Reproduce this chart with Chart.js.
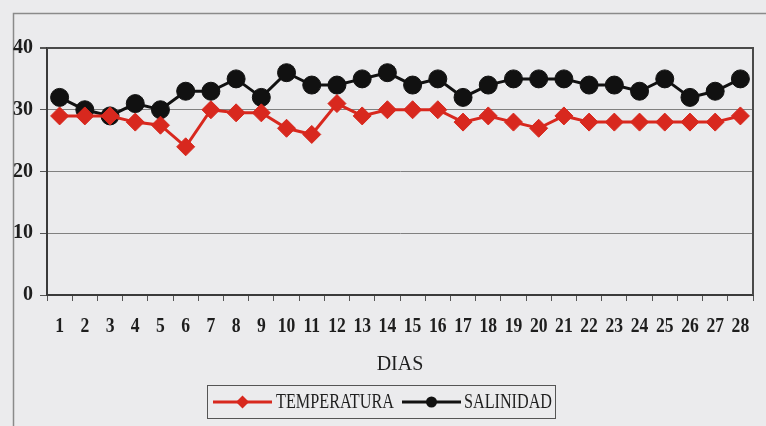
<!DOCTYPE html>
<html>
<head>
<meta charset="utf-8">
<script src="https://cdn.jsdelivr.net/npm/chart.js@4/dist/chart.umd.min.js"></script>
<style>
  html, body { margin: 0; padding: 0; background: #ebebed; }
  #wrap { width: 766px; height: 426px; position: relative; }
</style>
</head>
<body>
<div id="wrap"><canvas id="c" width="766" height="426"></canvas></div>
<script>
// Days of the sampling period
const dias = ['1','2','3','4','5','6','7','8','9','10','11','12','13','14',
              '15','16','17','18','19','20','21','22','23','24','25','26','27','28'];

// Daily water temperature (°C)
const temperatura = [29, 29, 29, 28, 27.5, 24, 30, 29.5, 29.5, 27, 26, 31, 29, 30,
                     30, 30, 28, 29, 28, 27, 29, 28, 28, 28, 28, 28, 28, 29];

// Daily salinity (‰)
const salinidad = [32, 30, 29, 31, 30, 33, 33, 35, 32, 36, 34, 34, 35, 36,
                   34, 35, 32, 34, 35, 35, 35, 34, 34, 33, 35, 32, 33, 35];

const yTicks = [0, 10, 20, 30, 40];

const RED = '#d8281e';
const BLACK = '#111111';
const INK = '#1e1e1e';
const SERIF = '"Liberation Serif", "DejaVu Serif", serif';

// Draw text squeezed horizontally to a narrower set width
function condensedText(ctx, text, x, y, squeeze, align) {
  const w = ctx.measureText(text).width * squeeze;
  const left = align === 'center' ? x - w / 2 : x;
  ctx.save();
  ctx.translate(left, y);
  ctx.scale(squeeze, 1);
  ctx.textAlign = 'left';
  ctx.fillText(text, 0, 0);
  ctx.restore();
}

// Frame around the plot area plus the outer chart border
const framePlugin = {
  id: 'frame',
  beforeDraw(chart) {
    const { ctx, width, height } = chart;
    ctx.save();
    ctx.fillStyle = '#ebebed';
    ctx.fillRect(0, 0, width, height);
    ctx.strokeStyle = '#8a8a8a';
    ctx.lineWidth = 1.5;
    ctx.beginPath();
    ctx.moveTo(13.5, height);
    ctx.lineTo(13.5, 13.5);
    ctx.lineTo(width, 13.5);
    ctx.stroke();
    ctx.restore();
  },
  beforeDatasetsDraw(chart) {
    const { ctx, chartArea: a } = chart;
    ctx.save();
    ctx.strokeStyle = '#4a4a4a';
    ctx.lineWidth = 2;
    ctx.beginPath();
    ctx.moveTo(a.left, a.top);
    ctx.lineTo(a.right, a.top);
    ctx.lineTo(a.right, a.bottom);
    ctx.stroke();
    ctx.restore();
  }
};

// Slightly narrowed day numbers under the category axis
const dayLabelsPlugin = {
  id: 'dayLabels',
  afterDraw(chart) {
    const { ctx } = chart;
    const xs = chart.scales.x;
    ctx.save();
    ctx.fillStyle = INK;
    ctx.font = 'bold 20px ' + SERIF;
    ctx.textBaseline = 'middle';
    chart.data.labels.forEach((lab, i) => {
      condensedText(ctx, lab, xs.getPixelForTick(i), xs.top + 32, 0.88, 'center');
    });
    ctx.restore();
  }
};

// Boxed legend drawn below the axis title
const boxLegendPlugin = {
  id: 'boxLegend',
  afterDraw(chart) {
    const { ctx } = chart;
    const box = { x: 207.5, y: 385.5, w: 348, h: 33 };
    const cy = box.y + box.h / 2;
    ctx.save();
    ctx.strokeStyle = '#555';
    ctx.lineWidth = 1;
    ctx.strokeRect(box.x, box.y, box.w, box.h);

    const items = [
      { x0: 213, x1: 272, tx: 276, tw: 118 },
      { x0: 402, x1: 461, tx: 464, tw: 88 }
    ];
    chart.data.datasets.forEach((ds, i) => {
      const it = items[i];
      const mx = (it.x0 + it.x1) / 2;
      ctx.strokeStyle = ds.borderColor;
      ctx.lineWidth = 3;
      ctx.beginPath();
      ctx.moveTo(it.x0, cy);
      ctx.lineTo(it.x1, cy);
      ctx.stroke();
      ctx.fillStyle = ds.pointBackgroundColor;
      ctx.beginPath();
      const r = 5.5;
      if (ds.pointStyle === 'circle') {
        ctx.arc(mx, cy, r, 0, Math.PI * 2);
      } else {
        ctx.moveTo(mx, cy - r - 1);
        ctx.lineTo(mx + r + 1, cy);
        ctx.lineTo(mx, cy + r + 1);
        ctx.lineTo(mx - r - 1, cy);
        ctx.closePath();
      }
      ctx.fill();

      ctx.fillStyle = INK;
      ctx.font = '20px ' + SERIF;
      ctx.textBaseline = 'middle';
      const w = ctx.measureText(ds.label).width;
      condensedText(ctx, ds.label, it.tx, cy + 1, it.tw / w, 'left');
    });
    ctx.restore();
  }
};

new Chart(document.getElementById('c'), {
  type: 'line',
  data: {
    labels: dias,
    datasets: [
      {
        label: 'TEMPERATURA',
        data: temperatura,
        borderColor: RED,
        backgroundColor: RED,
        pointBackgroundColor: RED,
        pointBorderColor: RED,
        pointStyle: 'rectRot',
        pointRadius: 9,
        pointBorderWidth: 1,
        borderWidth: 3,
        tension: 0
      },
      {
        label: 'SALINIDAD',
        data: salinidad,
        borderColor: BLACK,
        backgroundColor: BLACK,
        pointBackgroundColor: BLACK,
        pointBorderColor: BLACK,
        pointStyle: 'circle',
        pointRadius: 9,
        pointBorderWidth: 1,
        borderWidth: 3,
        tension: 0
      }
    ]
  },
  options: {
    responsive: false,
    animation: false,
    devicePixelRatio: 1,
    layout: { padding: { left: 0, right: 13, top: 48, bottom: 0 } },
    plugins: {
      legend: { display: false },
      tooltip: { enabled: false },
      title: { display: false }
    },
    scales: {
      x: {
        type: 'category',
        offset: true,
        grid: {
          offset: true,
          drawOnChartArea: false,
          drawTicks: true,
          tickLength: 6,
          color: '#555',
          lineWidth: 1
        },
        border: { display: true, color: '#3a3a3a', width: 2 },
        ticks: { display: false, autoSkip: false, maxRotation: 0 },
        title: {
          display: true,
          text: 'DIAS',
          color: INK,
          font: { family: SERIF, size: 20 },
          padding: { top: 0, bottom: 49 }
        },
        afterFit(scale) { scale.height = 131; }
      },
      y: {
        min: 0,
        max: 40,
        afterBuildTicks(scale) { scale.ticks = yTicks.map(v => ({ value: v })); },
        grid: {
          color: ctx => (ctx.tick && ctx.tick.value === 40) ? '#4a4a4a' : '#808080',
          lineWidth: ctx => (ctx.tick && ctx.tick.value === 40) ? 2 : 1,
          tickLength: 7,
          tickColor: '#555'
        },
        border: { display: true, color: '#3a3a3a', width: 2 },
        ticks: {
          color: INK,
          font: { family: SERIF, size: 20, weight: 'bold' },
          padding: 7
        },
        afterFit(scale) { scale.width = 47; }
      }
    }
  },
  plugins: [framePlugin, dayLabelsPlugin, boxLegendPlugin]
});
</script>
</body>
</html>
